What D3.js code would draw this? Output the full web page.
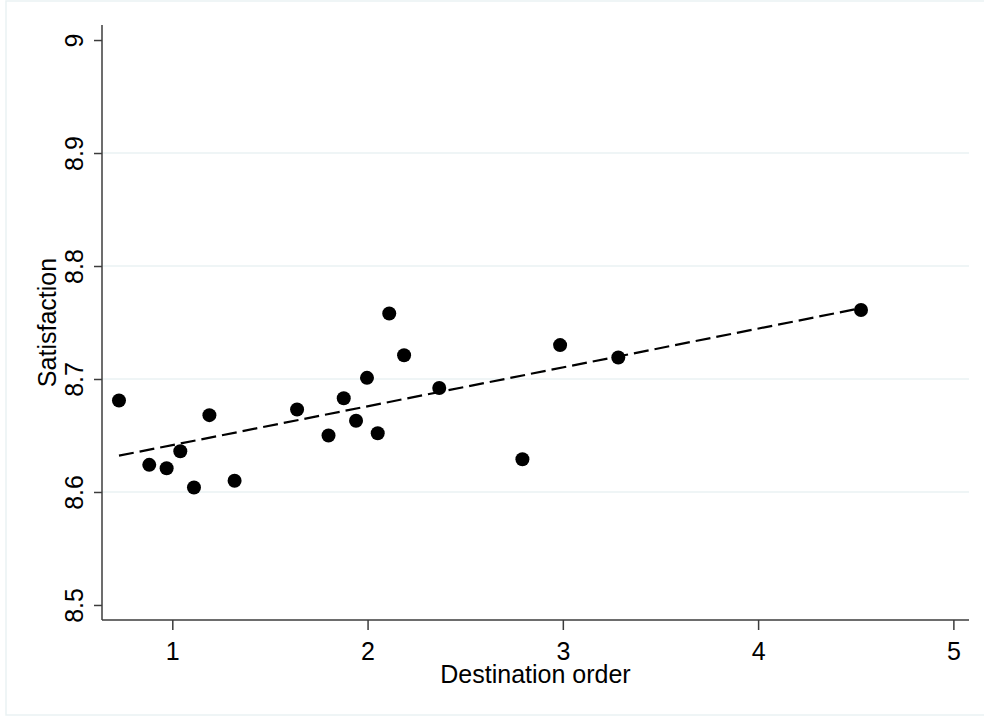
<!DOCTYPE html>
<html>
<head>
<meta charset="utf-8">
<script src="https://cdn.jsdelivr.net/npm/d3@7"></script>
<style>
  body { margin: 0; background: #fff; }
  svg text { font-family: "Liberation Sans", Arial, sans-serif; fill: #000; }
</style>
</head>
<body>
<div id="chart"></div>
<script>
// destination order (x) and satisfaction (y)
const order = [0.727, 0.882, 0.971, 1.041, 1.111, 1.190, 1.319, 1.639, 1.800, 1.878,
               1.941, 1.997, 2.052, 2.111, 2.187, 2.367, 2.793, 2.986, 3.284, 4.527];
const satisfaction = [8.681, 8.624, 8.621, 8.636, 8.604, 8.668, 8.610, 8.673, 8.650, 8.683,
                      8.663, 8.701, 8.652, 8.758, 8.721, 8.692, 8.629, 8.730, 8.719, 8.761];
const xTicks = [1, 2, 3, 4, 5];
const yTicks = [8.5, 8.6, 8.7, 8.8, 8.9, 9];

const width = 984, height = 717;
const margin = {top: 25, right: 15, bottom: 97, left: 102};
const fontSize = 25;

const svg = d3.select("#chart").append("svg")
    .attr("width", width)
    .attr("height", height);

// outer frame
svg.append("rect")
    .attr("x", 6).attr("y", 1)
    .attr("width", 1000).attr("height", 714)
    .attr("fill", "#fff")
    .attr("stroke", "#eaf2f3")
    .attr("stroke-width", 1.5);

let xScale = d3.scaleLinear()
    .domain([0.64, 5.08])
    .range([margin.left, width - margin.right]);
let yScale = d3.scaleLinear()
    .domain([8.4867, 9.0133])
    .range([height - margin.bottom, margin.top]);

// gridlines (not at the outer ticks)
svg.append("g").selectAll("line")
    .data(yTicks.slice(1, -1))
    .enter().append("line")
    .attr("x1", margin.left).attr("x2", width - margin.right)
    .attr("y1", d => yScale(d)).attr("y2", d => yScale(d))
    .attr("stroke", "#eaf2f3")
    .attr("stroke-width", 1.5);

// linear fit
let data = order.map((x, i) => ({x: x, y: satisfaction[i]}));
let mx = d3.mean(order), my = d3.mean(satisfaction);
let sxy = d3.sum(data, d => (d.x - mx) * (d.y - my));
let sxx = d3.sum(data, d => (d.x - mx) * (d.x - mx));
let slope = sxy / sxx, intercept = my - slope * mx;
let ext = d3.extent(order);

svg.append("line")
    .attr("x1", xScale(ext[0])).attr("y1", yScale(intercept + slope * ext[0]))
    .attr("x2", xScale(ext[1])).attr("y2", yScale(intercept + slope * ext[1]))
    .attr("stroke", "#000")
    .attr("stroke-width", 2.2)
    .attr("stroke-dasharray", "15,6");

// points
svg.append("g").selectAll("circle")
    .data(data)
    .enter().append("circle")
    .attr("cx", d => xScale(d.x))
    .attr("cy", d => yScale(d.y))
    .attr("r", 7)
    .attr("fill", "#000");

// axes
let xAxis = svg.append("g")
    .attr("transform", "translate(0," + (height - margin.bottom) + ")")
    .call(d3.axisBottom(xScale).tickValues(xTicks).tickSize(10).tickPadding(12).tickFormat(d3.format("d")));
xAxis.select(".domain").attr("d", "M" + margin.left + ",0H" + (width - margin.right));

let yAxis = svg.append("g")
    .attr("transform", "translate(" + margin.left + ",0)")
    .call(d3.axisLeft(yScale).tickValues(yTicks).tickSize(8).tickFormat(d => d3.format("")(d)));
yAxis.select(".domain").attr("d", "M0," + margin.top + "V" + (height - margin.bottom));

svg.selectAll(".domain, .tick line")
    .attr("stroke", "#3c3c3c")
    .attr("stroke-width", 1.5);

xAxis.selectAll(".tick text")
    .attr("font-size", fontSize)
    .attr("fill", "#000");

// rotated y tick labels, baseline facing the axis
yAxis.selectAll(".tick text")
    .attr("font-size", fontSize)
    .attr("fill", "#000")
    .attr("text-anchor", "middle")
    .attr("x", 0)
    .attr("y", 0)
    .attr("dy", 0)
    .attr("transform", "translate(-19,0) rotate(-90)");

// axis titles
svg.append("text")
    .attr("x", (margin.left + width - margin.right) / 2)
    .attr("y", 683)
    .attr("text-anchor", "middle")
    .attr("font-size", fontSize)
    .text("Destination order");

svg.append("text")
    .attr("transform", "translate(56," + ((margin.top + height - margin.bottom) / 2) + ") rotate(-90)")
    .attr("text-anchor", "middle")
    .attr("font-size", fontSize)
    .text("Satisfaction");
</script>
</body>
</html>
